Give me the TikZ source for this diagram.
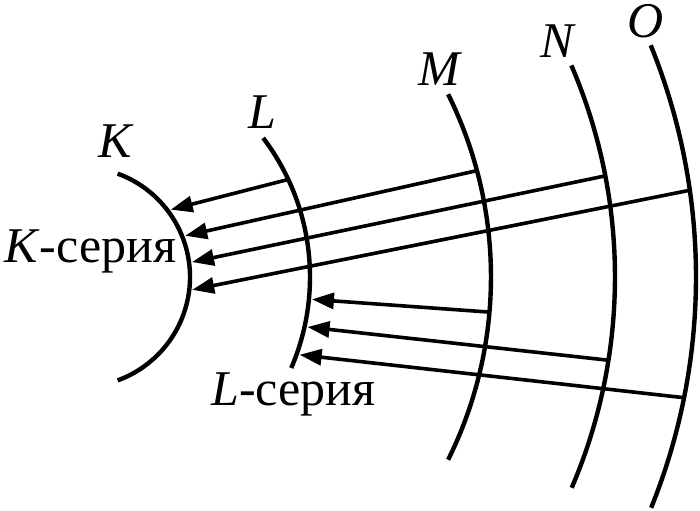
\documentclass[tikz,border=0pt]{standalone}
\usepackage{fontspec}
\setmainfont{Liberation Serif}
\usetikzlibrary{arrows.meta}

\begin{document}
\begin{tikzpicture}[x=0.5pt, y=-0.5pt,
    shell/.style={line width=2.2pt},
    jump/.style={line width=1.8pt, -{Triangle[length=11pt, width=8pt]}},
    shellname/.style={font=\fontsize{25}{29}\selectfont\itshape, inner sep=0pt, anchor=base},
    series/.style={font=\fontsize{25}{29}\selectfont, inner sep=0pt, anchor=base west}]

    % Fixed frame and common centre of the shells
    \useasboundingbox (0,0) rectangle (700,510);
    \coordinate (c) at (80,277);

    % Shells K, L, M, N, O as arcs round the same centre
    \draw[shell] ([shift={(c)}]-70:110) arc[start angle=-70, end angle=70, radius=110];
    \draw[shell] ([shift={(c)}]-37.2:230) arc[start angle=-37.2, end angle=23.3, radius=230];
    \draw[shell] ([shift={(c)}]-26.4:411) arc[start angle=-26.4, end angle=26.4, radius=411];
    \draw[shell] ([shift={(c)}]-23.3:535) arc[start angle=-23.3, end angle=23.2, radius=535];
    \draw[shell] ([shift={(c)}]-22.1:616) arc[start angle=-22.1, end angle=22.0, radius=616];

    % Shell names
    \node[shellname] (nameK) at (115,157) {K};
    \node[shellname] (nameL) at (262,128) {L};
    \node[shellname] (nameM) at (439,85) {M};
    \node[shellname] (nameN) at (557,57) {N};
    \node[shellname] (nameO) at (646,37) {O};

    % Series labels
    \node[series] (serK) at (4,262) {\textit{K}-серия};
    \node[series] (serL) at (211,405) {\textit{L}-серия};

    % Start points on the outer shells
    \coordinate (fromL1) at ([shift={(c)}]-25.1:230);
    \coordinate (fromM1) at ([shift={(c)}]-15.0:411);
    \coordinate (fromN1) at ([shift={(c)}]-10.9:535);
    \coordinate (fromO1) at ([shift={(c)}]-8.1:616);
    \coordinate (fromM2) at ([shift={(c)}]4.9:411);
    \coordinate (fromN2) at ([shift={(c)}]8.95:535);
    \coordinate (fromO2) at ([shift={(c)}]11.3:616);

    % End points on K and L
    \coordinate (toK1) at ([shift={(c)}]-36.6:113);
    \coordinate (toK2) at ([shift={(c)}]-21.4:113);
    \coordinate (toK3) at ([shift={(c)}]-7.6:113);
    \coordinate (toK4) at ([shift={(c)}]6.5:113);
    \coordinate (toL1) at ([shift={(c)}]5.5:233);
    \coordinate (toL2) at ([shift={(c)}]12.4:233);
    \coordinate (toL3) at ([shift={(c)}]19.5:233);

    % K-series transitions
    \draw[jump] (fromL1) -- (toK1); % L -> K
    \draw[jump] (fromM1) -- (toK2); % M -> K
    \draw[jump] (fromN1) -- (toK3); % N -> K
    \draw[jump] (fromO1) -- (toK4); % O -> K

    % L-series transitions
    \draw[jump] (fromM2) -- (toL1); % M -> L
    \draw[jump] (fromN2) -- (toL2); % N -> L
    \draw[jump] (fromO2) -- (toL3); % O -> L

\end{tikzpicture}
\end{document}
